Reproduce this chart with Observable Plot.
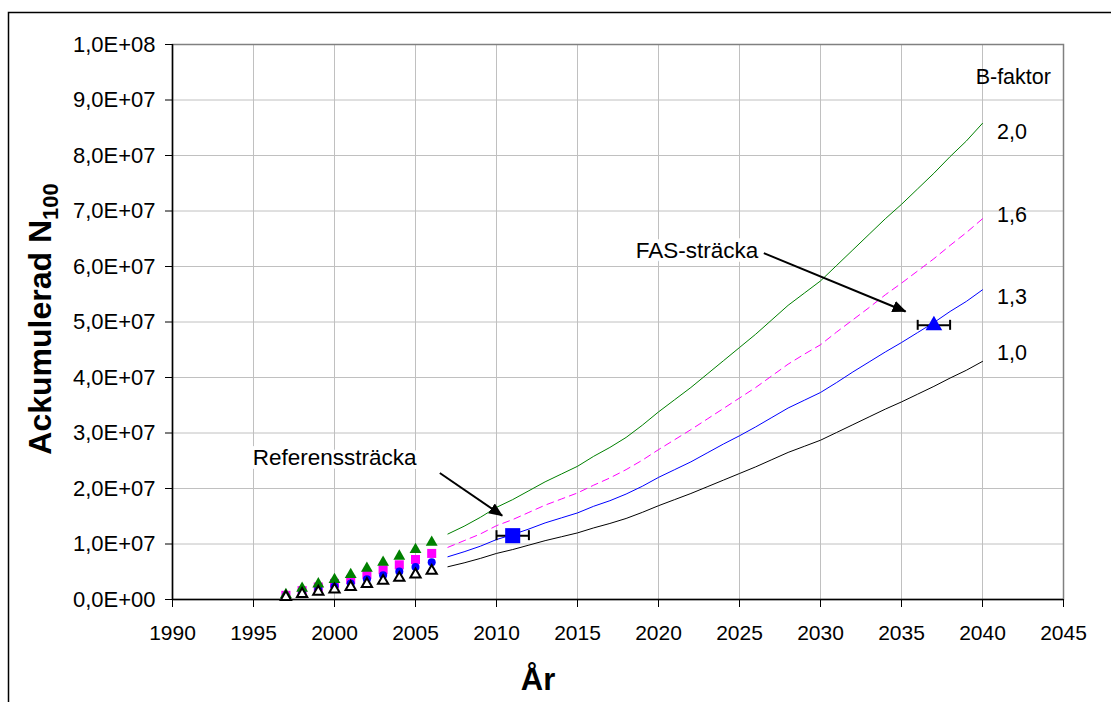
<!DOCTYPE html>
<html><head><meta charset="utf-8">
<script src="https://cdn.jsdelivr.net/npm/d3@7"></script>
<script src="https://cdn.jsdelivr.net/npm/@observablehq/plot@0.6"></script>
<style>
html,body{margin:0;padding:0;background:#fff;overflow:hidden}
svg g[aria-label="y-axis tick label"], svg g[aria-label="y-axis tick label"] text { font-size: 22px !important; }
svg g[aria-label="x-axis tick label"], svg g[aria-label="x-axis tick label"] text { font-size: 21px !important; }
</style>
</head><body><div id="chart"></div>
<script>
// ---- data ----
const xTicks = [1990, 1995, 2000, 2005, 2010, 2015, 2020, 2025, 2030, 2035, 2040, 2045];
const yTicks = [0, 1e7, 2e7, 3e7, 4e7, 5e7, 6e7, 7e7, 8e7, 9e7, 1e8];

const pointYears = [1997, 1998, 1999, 2000, 2001, 2002, 2003, 2004, 2005, 2006];
const pointsB10 = [0.45e6, 1.0e6, 1.4e6, 1.8e6, 2.25e6, 2.8e6, 3.35e6, 3.9e6, 4.5e6, 5.15e6];
const pointsB13 = [0.6e6, 1.3e6, 1.85e6, 2.35e6, 2.9e6, 3.65e6, 4.35e6, 5.05e6, 5.85e6, 6.7e6];
const pointsB16 = [0.75e6, 1.6e6, 2.25e6, 2.9e6, 3.6e6, 4.5e6, 5.35e6, 6.25e6, 7.2e6, 8.3e6];
const pointsB20 = [0.9e6, 2.0e6, 2.8e6, 3.6e6, 4.5e6, 5.6e6, 6.7e6, 7.8e6, 9.0e6, 10.3e6];

const lineYears = [2007, 2008, 2009, 2010, 2011, 2012, 2013, 2014, 2015, 2016, 2017, 2018, 2019, 2020,
  2021, 2022, 2023, 2024, 2025, 2026, 2027, 2028, 2029, 2030, 2031, 2032, 2033, 2034, 2035, 2036, 2037, 2038, 2039, 2040];
const lineB10 = [5.9, 6.6, 7.4, 8.3, 9.0, 9.8, 10.6, 11.3, 12.0, 12.9, 13.7, 14.6, 15.7, 16.9,
  18.0, 19.1, 20.3, 21.5, 22.7, 23.9, 25.2, 26.5, 27.6, 28.7, 30.1, 31.5, 32.9, 34.3, 35.6, 37.0, 38.4, 39.9, 41.3, 42.9];
const lineB13 = [7.7, 8.6, 9.6, 10.8, 11.7, 12.7, 13.8, 14.7, 15.6, 16.8, 17.8, 19.0, 20.4, 22.0,
  23.4, 24.8, 26.4, 28.0, 29.5, 31.1, 32.8, 34.5, 35.9, 37.3, 39.1, 41.0, 42.8, 44.6, 46.3, 48.1, 49.9, 51.9, 53.7, 55.8];
const lineB16 = [9.4, 10.6, 11.8, 13.3, 14.4, 15.7, 17.0, 18.1, 19.2, 20.6, 21.9, 23.4, 25.1, 27.0,
  28.8, 30.6, 32.5, 34.4, 36.3, 38.2, 40.3, 42.4, 44.2, 45.9, 48.2, 50.4, 52.6, 54.9, 57.0, 59.2, 61.4, 63.8, 66.1, 68.6];
const lineB20 = [11.8, 13.2, 14.8, 16.6, 18.0, 19.6, 21.2, 22.6, 24.0, 25.8, 27.4, 29.2, 31.4, 33.8,
  36.0, 38.2, 40.6, 43.0, 45.4, 47.8, 50.4, 53.0, 55.2, 57.4, 60.2, 63.0, 65.8, 68.6, 71.2, 74.0, 76.8, 79.8, 82.6, 85.8];

const refMarker = {year: 2011, value: 11.5e6, lo: 2010, hi: 2012};
const fasMarker = {year: 2037, value: 49.4e6, lo: 2036, hi: 2038};

const annotations = [
  {text: "FAS-sträcka", x: 2018.6, y: 62.8e6},
  {text: "Referenssträcka", x: 1994.95, y: 25.5e6}
];
const arrows = [
  {x1: 2026.5, y1: 62.4e6, x2: 2035.25, y2: 51.9e6},
  {x1: 2006.5, y1: 22.8e6, x2: 2010.35, y2: 15.1e6}
];
const bLabels = ["2,0", "1,6", "1,3", "1,0"];
const bLabelY = [84.2e6, 69.2e6, 54.4e6, 44.4e6];
const bTitle = {text: "B-faktor", x: 2041.9, y: 94.1e6};

// ---- helpers ----
const toLine = vals => lineYears.map((year, i) => ({year, value: vals[i] * 1e6}));
const toPts = vals => pointYears.map((year, i) => ({year, value: vals[i]}));
const fmtSci = d => {
  if (d === 0) return "0,0E+00";
  const e = Math.floor(Math.log10(d) + 1e-9);
  const m = d / Math.pow(10, e);
  return m.toFixed(1).replace(".", ",") + "E+" + String(e).padStart(2, "0");
};
const capHalf = 0.9e6;
const errBars = [refMarker, fasMarker];
const caps = errBars.flatMap(d => [d.lo, d.hi].map(x => ({x, y1: d.value - capHalf, y2: d.value + capHalf})));
const labelRows = bLabels.map((t, i) => ({text: t, y: bLabelY[i]}));

const font = "'Liberation Sans', Arial, sans-serif";

const plot = Plot.plot({
  width: 1111,
  height: 702,
  marginLeft: 172,
  marginRight: 48,
  marginTop: 44,
  marginBottom: 103,
  style: {fontFamily: font, fontSize: "20px", background: "white", color: "black"},
  x: {domain: [1990, 2045]},
  y: {domain: [0, 1e8]},
  marks: [
    Plot.gridX(xTicks, {stroke: "#c0c0c0", strokeOpacity: 1}),
    Plot.gridY(yTicks, {stroke: "#c0c0c0", strokeOpacity: 1}),
    Plot.frame({stroke: "#808080", strokeWidth: 1.5}),
    Plot.ruleX([1990], {stroke: "black", strokeWidth: 1.5}),
    Plot.ruleY([0], {stroke: "black", strokeWidth: 1.5}),
    Plot.axisY({ticks: yTicks, tickSize: 7, tickPadding: 10, tickFormat: fmtSci, label: null}),
    Plot.axisX({ticks: xTicks, tickSize: 8, tickPadding: 18, tickFormat: "d", label: null}),
    // lines
    Plot.line(toLine(lineB10), {x: "year", y: "value", stroke: "black", strokeWidth: 1}),
    Plot.line(toLine(lineB13), {x: "year", y: "value", stroke: "#0000ff", strokeWidth: 1}),
    Plot.line(toLine(lineB16), {x: "year", y: "value", stroke: "#ff00ff", strokeWidth: 1, strokeDasharray: "7,5"}),
    Plot.line(toLine(lineB20), {x: "year", y: "value", stroke: "#008000", strokeWidth: 1}),
    // measured points
    Plot.dot(toPts(pointsB16), {x: "year", y: "value", symbol: "square", r: 5.1, fill: "#ff00ff", stroke: "none"}),
    Plot.dot(toPts(pointsB13), {x: "year", y: "value", symbol: "circle", r: 4, fill: "#0000ff", stroke: "none"}),
    Plot.dot(toPts(pointsB20), {x: "year", y: "value", symbol: "triangle", r: 4.4, fill: "#008000", stroke: "none"}),
    Plot.dot(toPts(pointsB10), {x: "year", y: "value", symbol: "triangle", r: 3.8, fill: "white", stroke: "black", strokeWidth: 2}),
    // error bars and markers
    Plot.ruleY(errBars, {y: "value", x1: "lo", x2: "hi", stroke: "black", strokeWidth: 2}),
    Plot.ruleX(caps, {x: "x", y1: "y1", y2: "y2", stroke: "black", strokeWidth: 2}),
    Plot.dot([refMarker], {x: "year", y: "value", symbol: "square", r: 8.5, fill: "#0000ff", stroke: "none"}),
    Plot.dot([fasMarker], {x: "year", y: "value", symbol: "triangle", r: 6.2, fill: "#0000ff", stroke: "none"}),
    // annotations
    Plot.text(annotations, {x: "x", y: "y", text: "text", textAnchor: "start", fontSize: 22.5, fill: "black", stroke: "white", strokeWidth: 8}),
    Plot.link(arrows, {x1: "x1", y1: "y1", x2: "x2", y2: "y2", stroke: "black", strokeWidth: 2, ariaDescription: "annot-arrow"}),
    Plot.text(labelRows, {x: () => 2040.9, y: "y", text: "text", textAnchor: "start", fontSize: 21.5, fill: "black"}),
    Plot.text([bTitle], {x: "x", y: "y", text: "text", textAnchor: "middle", fontSize: 21.5, fill: "black"})
  ]
});

const svg = d3.select(plot);
// filled arrowhead for annotation links
const defs = svg.insert("defs", ":first-child");
defs.append("marker")
  .attr("id", "annot-head")
  .attr("markerUnits", "userSpaceOnUse")
  .attr("viewBox", "0 0 14 12")
  .attr("markerWidth", 14).attr("markerHeight", 12)
  .attr("refX", 13).attr("refY", 6)
  .attr("orient", "auto")
  .append("path").attr("d", "M0,0L14,6L0,12Z").attr("fill", "black").attr("stroke", "none");
svg.selectAll('g[aria-label="link"] path, g[aria-description="annot-arrow"] path')
  .attr("marker-end", "url(#annot-head)");

svg.append("rect")
  .attr("x", 8.5).attr("y", 12.5).attr("width", 1110).attr("height", 700)
  .attr("fill", "none").attr("stroke", "black").attr("stroke-width", 1.5);

const yTitle = svg.append("text")
  .attr("transform", "translate(51,319) rotate(-90)")
  .attr("text-anchor", "middle")
  .attr("font-family", font).attr("font-weight", "bold").attr("font-size", 32)
  .attr("fill", "black");
yTitle.append("tspan").text("Ackumulerad N");
yTitle.append("tspan").attr("font-size", 22).attr("dy", 7).text("100");

svg.append("text")
  .attr("x", 538).attr("y", 690)
  .attr("text-anchor", "middle")
  .attr("font-family", font).attr("font-weight", "bold").attr("font-size", 31)
  .attr("fill", "black")
  .text("År");

document.getElementById("chart").appendChild(plot);
</script></body></html>
